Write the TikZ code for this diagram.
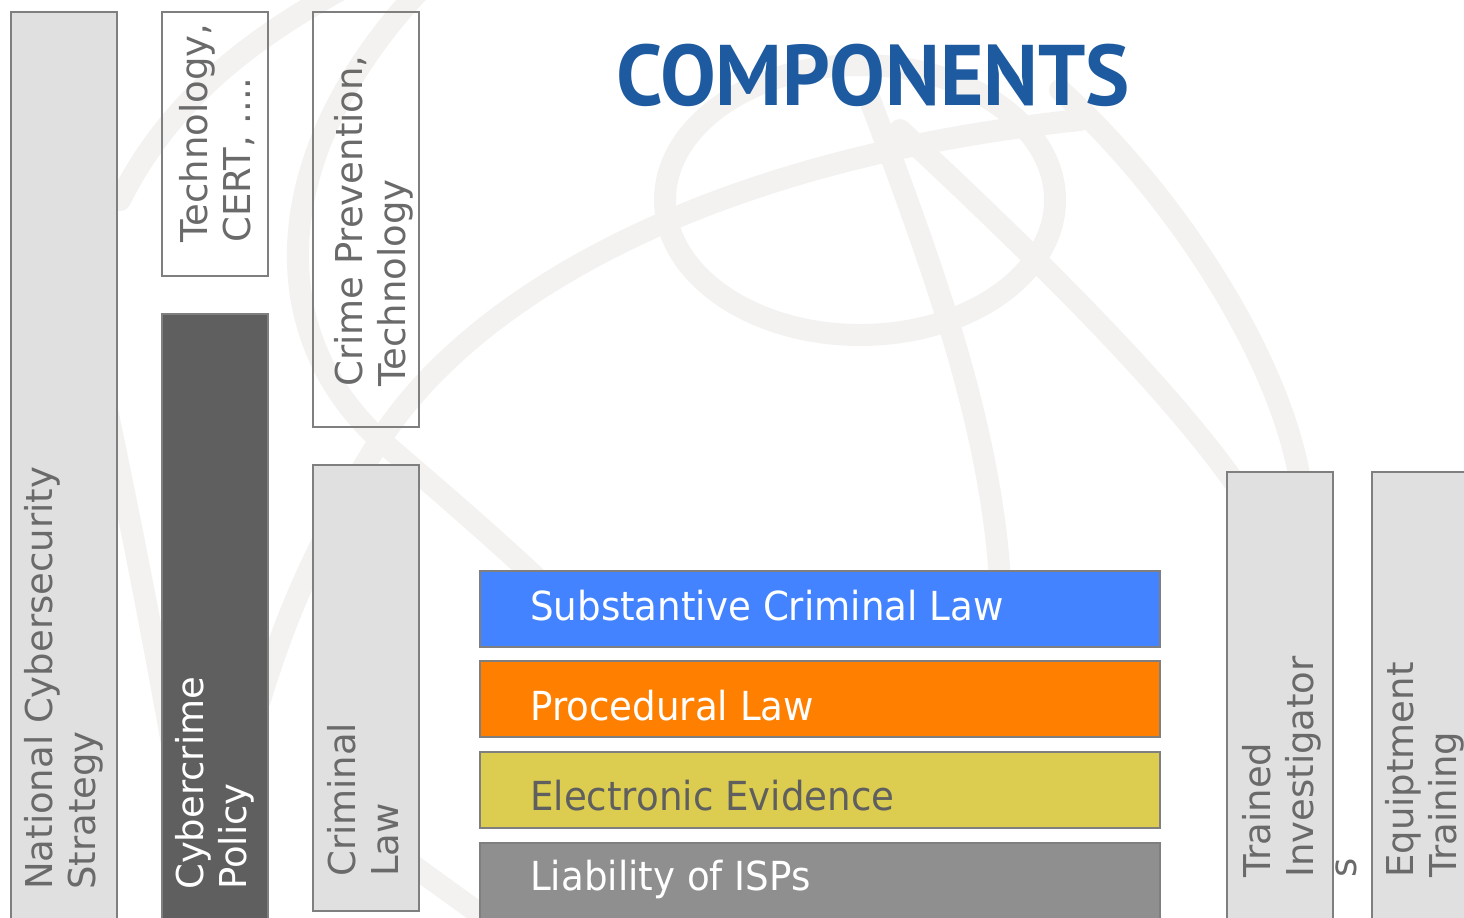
\documentclass[tikz,border=0pt]{standalone}
\usepackage{fontspec}
\setmainfont{DejaVu Sans}
\newfontfamily\layerfont[FakeStretch=0.93]{DejaVu Sans}
\newfontfamily\titlefont[FakeStretch=0.97]{PT Sans}

\definecolor{barline}{HTML}{7F7F7F}
\definecolor{barlight}{HTML}{E0E0E0}
\definecolor{bardark}{HTML}{5F5F5F}
\definecolor{labelgray}{HTML}{6A6A6A}
\definecolor{substblue}{HTML}{4383FF}
\definecolor{procorange}{HTML}{FF7F00}
\definecolor{evidyellow}{HTML}{DCCD50}
\definecolor{evidtext}{HTML}{5F5F5F}
\definecolor{ispgray}{HTML}{8F8F8F}
\definecolor{titleblue}{HTML}{1E5AA0}
\definecolor{globegray}{HTML}{F3F2F1}

\tikzset{
  bar/.style={draw=barline, line width=2pt},
  vlabel/.style={rotate=90, anchor=north west, inner sep=0pt, align=left,
    text=labelgray, font=\fontsize{37}{43}\selectfont},
  hlabel/.style={anchor=base west, inner sep=0pt,
    font=\layerfont\fontsize{40}{48}\selectfont},
  globe/.style={draw=globegray, line width=22pt, line cap=round}
}

\begin{document}
\begin{tikzpicture}[x=1pt, y=-1pt]
	\useasboundingbox (0,0) rectangle (1464,918);
	\clip (0,0) rectangle (1464,918);
	
	%Globus im Hintergrund
	\draw[globe] (120,200) .. controls (170,100) and (250,40) .. (340,-10);
	\draw[globe] (105,400) .. controls (130,520) and (150,620) .. (175,760);
	\draw[globe] (1080,120) .. controls (700,160) and (470,300) .. (380,440) .. controls (330,520) and (290,600) .. (260,700);
	\draw[globe] (420,-10) .. controls (270,150) and (260,330) .. (380,440) .. controls (450,500) and (520,560) .. (580,620);
	\draw[globe] (860,200) ellipse (195 and 135);
	\draw[globe] (870,100) .. controls (930,260) and (990,420) .. (1000,580);
	\draw[globe] (900,130) .. controls (1050,270) and (1170,390) .. (1240,490);
	\draw[globe] (1060,90) .. controls (1180,200) and (1280,360) .. (1300,480);
	\draw[globe] (380,840) .. controls (430,880) and (470,905) .. (500,930);
	
	%Saeulen
	\draw[bar, fill=barlight] (11,12) rectangle (117,930);
	\draw[bar] (162,12) rectangle (268,276);
	\draw[bar, fill=bardark] (162,314) rectangle (268,930);
	\draw[bar] (313,12) rectangle (419,427);
	\draw[bar, fill=barlight] (313,465) rectangle (419,911);
	\draw[bar, fill=barlight] (1227,472) rectangle (1333,930);
	\draw[bar, fill=barlight] (1372,472) rectangle (1480,930);
	
	\node[vlabel] (strategy) at (24,890) {National Cybersecurity\\Strategy};
	\node[vlabel] (tech) at (179,243) {Technology,\\CERT, ....};
	\node[vlabel, text=white] (policy) at (175,890) {Cybercrime\\Policy};
	\node[vlabel] (prevention) at (334,387) {Crime Prevention,\\Technology};
	\node[vlabel] (criminal) at (327,877) {Criminal\\Law};
	\node[vlabel] (investigators) at (1242,878) {Trained\\Investigator\\s};
	\node[vlabel] (equipment) at (1385,878) {Equiptment\\Training};
	
	%Schichten
	\foreach \i/\ytop/\ybot/\yb/\fc/\tc/\lbl in {
		1/571/647/620/substblue/white/Substantive Criminal Law,
		2/661/737/720/procorange/white/Procedural Law,
		3/752/828/810/evidyellow/evidtext/Electronic Evidence,
		4/843/930/890/ispgray/white/Liability of ISPs} {
		\draw[bar, fill=\fc] (480,\ytop) rectangle (1160,\ybot);
		\node[hlabel, text=\tc] (layer\i) at (530,\yb) {\lbl};
	}
	
	\node[anchor=base west, inner sep=0pt, text=titleblue,
		font=\titlefont\bfseries\fontsize{86}{86}\selectfont] (title) at (616,105) {COMPONENTS};
\end{tikzpicture}
\end{document}
